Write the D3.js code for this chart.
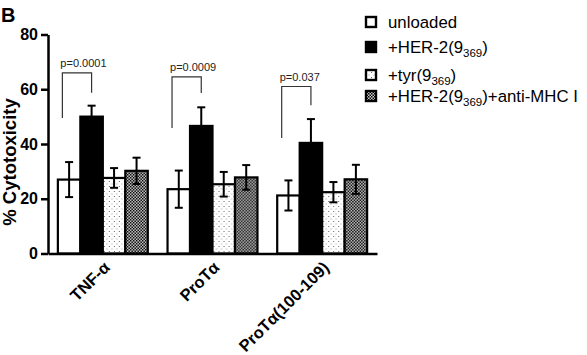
<!DOCTYPE html>
<html>
<head>
<meta charset="utf-8">
<title>% Cytotoxicity</title>
<style>
  body { margin: 0; background: #fff; }
  svg text { font-family: Arial, "Liberation Sans", sans-serif; }
</style>
</head>
<body>
<script src="https://cdn.jsdelivr.net/npm/d3@7/dist/d3.min.js"></script>
<script>

// data
var categories = ["TNF-\u03b1", "ProT\u03b1", "ProT\u03b1(100-109)"];
var seriesKeys = ["unloaded", "her2", "tyr", "her2Anti"];

var unloaded = [27, 23.5, 21.2];
var her2 = [50, 46.6, 40.4];
var tyr = [27.6, 25.3, 22.4];
var her2Anti = [30.2, 27.8, 27.1];

var unloadedErr = [6.4, 6.8, 5.5];
var her2Err = [4, 6.8, 8.7];
var tyrErr = [3.6, 4.5, 3.7];
var her2AntiErr = [4.8, 4.5, 5.3];

var yTicks = [0, 20, 40, 60, 80];

// legend labels, pieces alternate normal / subscript
var legendLabels = [
  ["unloaded"],
  ["+HER-2(9", "369", ")"],
  ["+tyr(9", "369", ")"],
  ["+HER-2(9", "369", ")+anti-MHC I"]
];

// significance brackets (in % units)
var pLabels = ["p=0.0001", "p=0.0009", "p=0.037"];
var bracketTop = [66, 64.5, 61];
var bracketLeftEnd = [49.5, 45.8, 42.2];
var bracketRightEnd = [58.7, 58.6, 54.2];

var means = {unloaded: unloaded, her2: her2, tyr: tyr, her2Anti: her2Anti};
var errs = {unloaded: unloadedErr, her2: her2Err, tyr: tyrErr, her2Anti: her2AntiErr};
var fills = {unloaded: "#fff", her2: "#000", tyr: "url(#dots)", her2Anti: "url(#checks)"};

var width = 587, height = 355;
var margin = {top: 34.5, right: 210, bottom: 101.5, left: 48};

var svg = d3.select("body").append("svg")
  .attr("width", width)
  .attr("height", height);

// fill patterns
var defs = svg.append("defs");
var dots = defs.append("pattern").attr("id", "dots")
  .attr("patternUnits", "userSpaceOnUse")
  .attr("width", 5).attr("height", 5);
dots.append("rect").attr("width", 5).attr("height", 5).attr("fill", "#fff");
dots.append("rect").attr("x", 1).attr("y", 1).attr("width", 1).attr("height", 1).attr("fill", "#666");
dots.append("rect").attr("x", 3.5).attr("y", 3.5).attr("width", 1).attr("height", 1).attr("fill", "#999");

var checks = defs.append("pattern").attr("id", "checks")
  .attr("patternUnits", "userSpaceOnUse")
  .attr("width", 3).attr("height", 3);
checks.append("rect").attr("width", 3).attr("height", 3).attr("fill", "#cfcfcf");
checks.append("rect").attr("width", 1.5).attr("height", 1.5).attr("fill", "#000");
checks.append("rect").attr("x", 1.5).attr("y", 1.5).attr("width", 1.5).attr("height", 1.5).attr("fill", "#000");

var x0 = d3.scaleBand()
  .domain(categories)
  .range([margin.left, width - margin.right])
  .paddingInner(0.18)
  .paddingOuter(0.09);

var x1 = d3.scaleBand()
  .domain(seriesKeys)
  .range([0, x0.bandwidth()]);

var y = d3.scaleLinear()
  .domain([0, 80])
  .range([height - margin.bottom, margin.top]);

// bars
var groups = svg.append("g").selectAll("g")
  .data(categories)
  .enter().append("g")
  .attr("transform", function(d) { return "translate(" + x0(d) + ",0)"; });

groups.selectAll("rect")
  .data(function(d, i) {
    return seriesKeys.map(function(k) { return {key: k, v: means[k][i], e: errs[k][i]}; });
  })
  .enter().append("rect")
  .attr("x", function(d) { return x1(d.key); })
  .attr("width", x1.bandwidth())
  .attr("y", function(d) { return y(d.v); })
  .attr("height", function(d) { return y(0) - y(d.v); })
  .attr("fill", function(d) { return fills[d.key]; })
  .attr("stroke", "#000")
  .attr("stroke-width", 2.2);

// error bars
var err = groups.selectAll("g.err")
  .data(function(d, i) {
    return seriesKeys.map(function(k) { return {key: k, v: means[k][i], e: errs[k][i]}; });
  })
  .enter().append("g").attr("class", "err")
  .attr("stroke", "#000")
  .attr("stroke-width", 2);

err.append("line")
  .attr("x1", function(d) { return x1(d.key) + x1.bandwidth() / 2; })
  .attr("x2", function(d) { return x1(d.key) + x1.bandwidth() / 2; })
  .attr("y1", function(d) { return y(d.v - d.e); })
  .attr("y2", function(d) { return y(d.v + d.e); });
err.append("line")
  .attr("x1", function(d) { return x1(d.key) + x1.bandwidth() / 2 - 4; })
  .attr("x2", function(d) { return x1(d.key) + x1.bandwidth() / 2 + 4; })
  .attr("y1", function(d) { return y(d.v + d.e); })
  .attr("y2", function(d) { return y(d.v + d.e); });
err.filter(function(d) { return d.key != "her2"; }).append("line")
  .attr("x1", function(d) { return x1(d.key) + x1.bandwidth() / 2 - 4; })
  .attr("x2", function(d) { return x1(d.key) + x1.bandwidth() / 2 + 4; })
  .attr("y1", function(d) { return y(d.v - d.e); })
  .attr("y2", function(d) { return y(d.v - d.e); });

// significance brackets
categories.forEach(function(c, i) {
  var lx = x0(c) + x0.bandwidth() * 0.05;
  var rx = x0(c) + x1("her2") + x1.bandwidth() / 2;
  svg.append("path")
    .attr("d", "M" + lx + "," + y(bracketLeftEnd[i]) + "V" + y(bracketTop[i]) +
      "H" + rx + "V" + y(bracketRightEnd[i]))
    .attr("fill", "none")
    .attr("stroke", "#333")
    .attr("stroke-width", 1.2);
  svg.append("text")
    .attr("x", lx - 2)
    .attr("y", y(bracketTop[i]) - 6)
    .attr("font-size", 11)
    .attr("fill", "#222")
    .text(pLabels[i]);
});

// y axis
var yAxis = svg.append("g")
  .attr("transform", "translate(" + margin.left + ",0)")
  .call(d3.axisLeft(y).tickValues(yTicks).tickSize(7).tickSizeOuter(0).tickPadding(3));
yAxis.select(".domain").attr("stroke-width", 2.5);
yAxis.selectAll(".tick line").attr("stroke-width", 2.5);
yAxis.selectAll(".tick text")
  .attr("font-size", 16)
  .attr("font-weight", "bold")
  .attr("font-family", "Arial, 'Liberation Sans', sans-serif");

// x axis
var xAxis = svg.append("g")
  .attr("transform", "translate(0," + y(0) + ")")
  .call(d3.axisBottom(x0).tickSize(0).tickSizeOuter(0));
xAxis.select(".domain").attr("stroke-width", 2.5);
xAxis.selectAll(".tick text")
  .attr("y", 0).attr("dy", 0)
  .attr("transform", "translate(8,15) rotate(-45)")
  .style("text-anchor", "end")
  .attr("font-size", 16.5)
  .attr("font-weight", "bold")
  .attr("font-family", "Arial, 'Liberation Sans', sans-serif");

// y label
svg.append("text")
  .attr("transform", "translate(16," + 162 + ") rotate(-90)")
  .attr("text-anchor", "middle")
  .attr("font-size", 18.5)
  .attr("font-weight", "bold")
  .text("% Cytotoxicity");

// panel letter
svg.append("text")
  .attr("x", 1).attr("y", 22)
  .attr("font-size", 20)
  .attr("font-weight", "bold")
  .text("B");

// legend
var legendY = [28, 53, 81, 102];
var legend = svg.append("g").selectAll("g")
  .data(seriesKeys)
  .enter().append("g")
  .attr("transform", function(d, i) { return "translate(365," + legendY[i] + ")"; });

legend.append("rect")
  .attr("x", 1).attr("y", -11)
  .attr("width", 10).attr("height", 10)
  .attr("fill", function(d) { return fills[d]; })
  .attr("stroke", "#000")
  .attr("stroke-width", 2.4);

legend.append("text")
  .attr("x", 23)
  .attr("font-size", 16.8)
  .each(function(d, i) {
    var t = d3.select(this);
    legendLabels[i].forEach(function(part, j) {
      var sub = j % 2 == 1;
      var prevSub = j > 0 && (j - 1) % 2 == 1;
      t.append("tspan")
        .attr("font-size", sub ? 11.5 : 16.8)
        .attr("dy", sub ? 4 : (prevSub ? -4 : 0))
        .text(part);
    });
  });

</script>
</body>
</html>
